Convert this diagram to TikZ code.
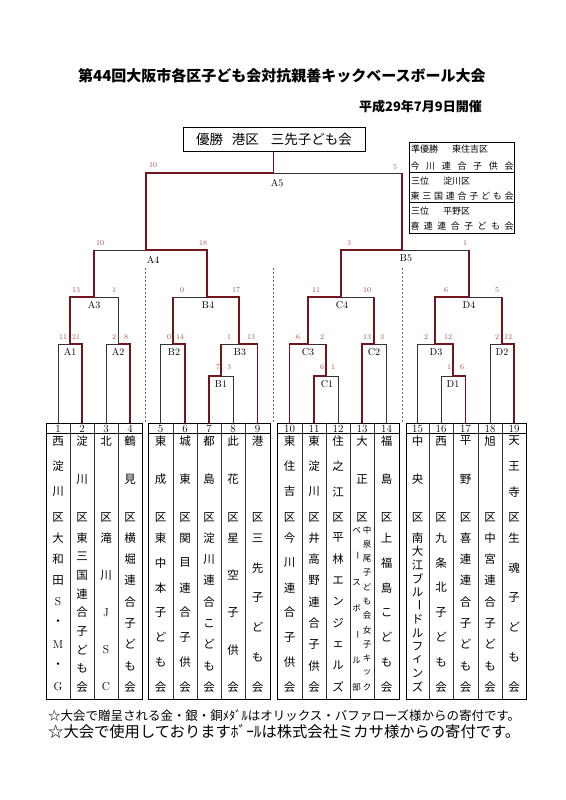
\documentclass[tikz,border=0pt]{standalone}
\usepackage{fontspec}
\usepackage{graphicx}
\newfontfamily\jp{Noto Sans CJK JP}
\definecolor{win}{RGB}{115,22,28}
\definecolor{score}{RGB}{170,80,80}
\newcommand\vbar{\rotatebox[origin=c]{-90}{ー}}
\newcommand\vspread[7]{%
  \foreach \ch [count=\k] in {#6} {%
    \pgfmathsetmacro\yy{#3+(\k-1)*(#4-#3)/(#5-1)}%
    \node[#1] (#7\k) at (#2,\yy) {\ch};%
  }}
\newcommand\hspread[7]{%
  \foreach \ch [count=\k] in {#6} {%
    \pgfmathsetmacro\xx{#3+(\k-1)*(#4-#3)/(#5-1)}%
    \node[#1] (#7\k) at (\xx,#2) {\ch};%
  }}
\newcommand\teamcol[6]{%
  \vspread{chr}{#2}{441}{517}{#3}{#4}{#1d}%
  \vspread{chr}{#2}{538}{687}{#5}{#6}{#1t}}
\tikzset{
  chr/.style={inner sep=0pt, font=\jp\fontsize{11.5}{11.5}\selectfont},
  chs/.style={inner sep=0pt, font=\jp\fontsize{8.5}{8.5}\selectfont},
  num/.style={inner sep=0pt, font=\fontsize{11}{11}\selectfont},
  sc/.style={inner sep=0pt, text=score, font=\fontsize{7.5}{7.5}\selectfont},
  mlab/.style={inner sep=0pt, font=\fontsize{10}{10}\selectfont},
  info/.style={inner sep=0pt, font=\jp\fontsize{9}{9}\selectfont},
  bk/.style={draw=black!80, line width=0.7pt},
  rd/.style={draw=win, line width=1.8pt},
  frame/.style={draw=black, line width=0.9pt},
  sep/.style={draw=black!60, line width=0.6pt, dash pattern=on 2pt off 2pt},
}
\begin{document}
\begin{tikzpicture}[x=1pt,y=-1pt]
\useasboundingbox[fill=white] (0,0) rectangle (565,800);

% titles
\node[inner sep=0pt, anchor=west, font=\jp\bfseries\fontsize{15}{15}\selectfont] (title) at (78,76) {第44回大阪市各区子ども会対抗親善キックベースボール大会};
\node[inner sep=0pt, anchor=east, font=\jp\bfseries\fontsize{13}{13}\selectfont] (date) at (482,107) {平成29年7月9日開催};

% champion box
\node[draw, line width=0.9pt, minimum width=182pt, minimum height=24pt, inner sep=0pt, font=\jp\fontsize{13.5}{13.5}\selectfont] (champ) at (274,139) {優勝\hspace{9pt}港区\hspace{12pt}三先子ども会};

% info box
\draw[frame] (409,142) rectangle (514,233);
\draw[frame] (409,172) -- (514,172);
\draw[frame] (409,202) -- (514,202);
\node[info, anchor=west] (r1) at (411,149) {準優勝\hspace{14pt}東住吉区};
\hspread{info}{166}{415}{509}{7}{今,川,連,合,子,供,会}{rtwo}
\node[info, anchor=west] (r3) at (411,181) {三位\hspace{14pt}淀川区};
\hspread{info}{196}{415}{509}{9}{東,三,国,連,合,子,ど,も,会}{rfour}
\node[info, anchor=west] (r5) at (411,211) {三位\hspace{14pt}平野区};
\hspread{info}{226}{415}{509}{8}{喜,連,連,合,子,ど,も,会}{rsix}

% coordinates of teams
\foreach \i/\x in {1/58,2/82,3/106,4/130,5/160.5,6/185,7/209,8/233,9/257.5,10/289.5,11/314,12/338,13/362,14/386.5,15/417.5,16/441,17/465.5,18/490,19/514}
  \coordinate (c\i) at (\x,423);
% match centres
\coordinate (A1) at (70,344);
\coordinate (A2) at (118,344);
\coordinate (A3) at (94,297);
\coordinate (B1) at (221,376);
\coordinate (B2) at (173,344);
\coordinate (B3) at (239,344);
\coordinate (B4) at (207,297);
\coordinate (A4) at (146,250);
\coordinate (C1) at (326,376);
\coordinate (C3) at (308,344);
\coordinate (C2) at (374,344);
\coordinate (C4) at (341,297);
\coordinate (D1) at (453,376);
\coordinate (D3) at (435,344);
\coordinate (D2) at (502,344);
\coordinate (D4) at (469,297);
\coordinate (B5) at (402,250);
\coordinate (A5) at (273.5,173);

% bracket (black)
\draw[bk] (c1) -- (c1|-A1) -- (c2|-A1) -- (c2);
\draw[bk] (c3) -- (c3|-A2) -- (c4|-A2) -- (c4);
\draw[bk] (A1) -- (A1|-A3) -- (A2|-A3) -- (A2);
\draw[bk] (c5) -- (c5|-B2) -- (c6|-B2) -- (c6);
\draw[bk] (c7) -- (c7|-B1) -- (c8|-B1) -- (c8);
\draw[bk] (B1) -- (B1|-B3) -- (c9|-B3) -- (c9);
\draw[bk] (B2) -- (B2|-B4) -- (B3|-B4) -- (B3);
\draw[bk] (A3) -- (A3|-A4) -- (B4|-A4) -- (B4);
\draw[bk] (c11) -- (c11|-C1) -- (c12|-C1) -- (c12);
\draw[bk] (c10) -- (c10|-C3) -- (C1|-C3) -- (C1);
\draw[bk] (c13) -- (c13|-C2) -- (c14|-C2) -- (c14);
\draw[bk] (C3) -- (C3|-C4) -- (C2|-C4) -- (C2);
\draw[bk] (c16) -- (c16|-D1) -- (c17|-D1) -- (c17);
\draw[bk] (c15) -- (c15|-D3) -- (D1|-D3) -- (D1);
\draw[bk] (c18) -- (c18|-D2) -- (c19|-D2) -- (c19);
\draw[bk] (D3) -- (D3|-D4) -- (D2|-D4) -- (D2);
\draw[bk] (C4) -- (C4|-B5) -- (D4|-B5) -- (D4);
\draw[bk] (A4) -- (A4|-A5) -- (B5|-A5) -- (B5);
\draw[bk] (A5) -- (A5|-champ.south);

% winning paths (red)
\draw[rd] (c2) -- (c2|-A1) -- (A1) -- (A1|-A3) -- (A3) -- (A3|-A4);
\draw[rd] (c4) -- (c4|-A2) -- (A2);
\draw[rd] (c6) -- (c6|-B2) -- (B2) -- (B2|-B4);
\draw[rd] (c7) -- (c7|-B1) -- (B1) -- (B1|-B3);
\draw[rd] (c9) -- (c9|-B3) -- (B3) -- (B3|-B4) -- (B4) -- (B4|-A4) -- (A4) -- (A4|-A5) -- (A5) -- (A5|-champ.south);
\draw[rd] (c11) -- (c11|-C1) -- (C1) -- (C1|-C3);
\draw[rd] (c10) -- (c10|-C3) -- (C3) -- (C3|-C4) -- (C4) -- (C4|-B5) -- (B5) -- (B5|-A5);
\draw[rd] (c13) -- (c13|-C2) -- (C2) -- (C2|-C4);
\draw[rd] (c17) -- (c17|-D1) -- (D1) -- (D1|-D3) -- (D3) -- (D3|-D4) -- (D4) -- (D4|-B5);
\draw[rd] (c19) -- (c19|-D2) -- (D2) -- (D2|-D4);

% dashed separators
\draw[sep] (145,268) -- (145,423);
\draw[sep] (273.5,268) -- (273.5,423);
\draw[sep] (402.5,268) -- (402.5,423);

% match labels
\foreach \m/\x/\y in {A5/277/183,A4/153/260,B5/406/258,A3/94/305,B4/208/305,C4/342/305,D4/469/305,A1/70/352,A2/118/352,B2/174/352,B3/240/352,C3/308/352,C2/374/352,D3/436/352,D2/502/352,B1/221/384,C1/327/384,D1/453/384}
  \node[mlab] (lab\m) at (\x,\y) {\m};

% scores
\foreach \s/\x/\y [count=\k] in {10/153/165,5/395/167,10/100/243,18/203/243,3/349/243,1/465/243,13/76/290,1/114/290,0/182/290,17/236/290,11/316/290,10/367/290,6/446/290,5/497/290,11/63/337,21/76/337,2/114/337,8/126/337,0/169/337,14/180/337,1/229/337,13/251/337,6/298/337,2/322/337,13/367/337,3/382/337,2/426/337,12/448/337,2/497/337,12/508/337,7/218/367,3/229/367,6/322/367,1/333/367,1/449/367,6/462/367}
  \node[sc] (sc\k) at (\x,\y) {\s};

% team table frames
\draw[frame] (46,423) rectangle (142,699);
\draw[frame] (46,433) -- (142,433);
\foreach \x in {70,94,118} \draw[bk] (\x,423) -- (\x,699);
\draw[frame] (148,423) rectangle (270,699);
\draw[frame] (148,433) -- (270,433);
\foreach \x in {173,197,221,245} \draw[bk] (\x,423) -- (\x,699);
\draw[frame] (277,423) rectangle (399,699);
\draw[frame] (277,433) -- (399,433);
\foreach \x in {302,326,350,374} \draw[bk] (\x,423) -- (\x,699);
\draw[frame] (406,423) rectangle (526,699);
\draw[frame] (406,433) -- (526,433);
\foreach \x in {429,453,478,502} \draw[bk] (\x,423) -- (\x,699);

% numbers
\foreach \i/\x in {1/58,2/82,3/106,4/130,5/160.5,6/185,7/209,8/233,9/257.5,10/289.5,11/314,12/338,13/362,14/386.5,15/417.5,16/441,17/465.5,18/490,19/514}
  \node[num] (n\i) at (\x,428.5) {\i};

% team names
\teamcol{ka}{58}{4}{西,淀,川,区}{8}{大,和,田,\rmfamily S,・,\rmfamily M,・,\rmfamily G}
\teamcol{kb}{82}{3}{淀,川,区}{9}{東,三,国,連,合,子,ど,も,会}
\teamcol{kc}{106}{2}{北,区}{5}{滝,川,\rmfamily J,\rmfamily S,\rmfamily C}
\teamcol{kd}{130}{3}{鶴,見,区}{8}{横,堀,連,合,子,ど,も,会}
\teamcol{ke}{160.5}{3}{東,成,区}{7}{東,中,本,子,ど,も,会}
\teamcol{kf}{185}{3}{城,東,区}{7}{関,目,連,合,子,供,会}
\teamcol{kg}{209}{3}{都,島,区}{8}{淀,川,連,合,こ,ど,も,会}
\teamcol{kh}{233}{3}{此,花,区}{5}{星,空,子,供,会}
\teamcol{ki}{257.5}{2}{港,区}{6}{三,先,子,ど,も,会}
\teamcol{kj}{289.5}{4}{東,住,吉,区}{7}{今,川,連,合,子,供,会}
\teamcol{kk}{314}{4}{東,淀,川,区}{8}{井,高,野,連,合,子,供,会}
\teamcol{kl}{338}{4}{住,之,江,区}{8}{平,林,エ,ン,ジ,ェ,ル,ズ}
\vspread{chr}{362}{441}{517}{3}{大,正,区}{kmd}
\vspread{chs}{367}{530}{687}{12}{中,泉,尾,子,ど,も,会,女,子,キ,ッ,ク}{kmr}
\vspread{chs}{356.5}{530}{687}{7}{ベ,\vbar,ス,ボ,\vbar,ル,部}{kml}
\teamcol{kn}{386.5}{3}{福,島,区}{7}{上,福,島,こ,ど,も,会}
\teamcol{ko}{417.5}{3}{中,央,区}{12}{南,大,江,ブ,ル,\vbar,ド,ル,フ,ィ,ン,ズ}
\teamcol{kp}{441}{2}{西,区}{7}{九,条,北,子,ど,も,会}
\teamcol{kq}{465.5}{3}{平,野,区}{8}{喜,連,連,合,子,ど,も,会}
\teamcol{kr}{490}{2}{旭,区}{8}{中,宮,連,合,子,ど,も,会}
\teamcol{ks}{514}{4}{天,王,寺,区}{6}{生,魂,子,ど,も,会}

% footnotes
\node[inner sep=0pt, anchor=west] (note1) at (48,716) {\resizebox{472pt}{!}{\jp ☆大会で贈呈される金・銀・銅ﾒﾀﾞﾙはオリックス・バファローズ様からの寄付です。}};
\node[inner sep=0pt, anchor=west] (note2) at (48,732) {\resizebox{472pt}{!}{\jp ☆大会で使用しておりますﾎﾞｰﾙは株式会社ミカサ様からの寄付です。}};
\end{tikzpicture}
\end{document}
